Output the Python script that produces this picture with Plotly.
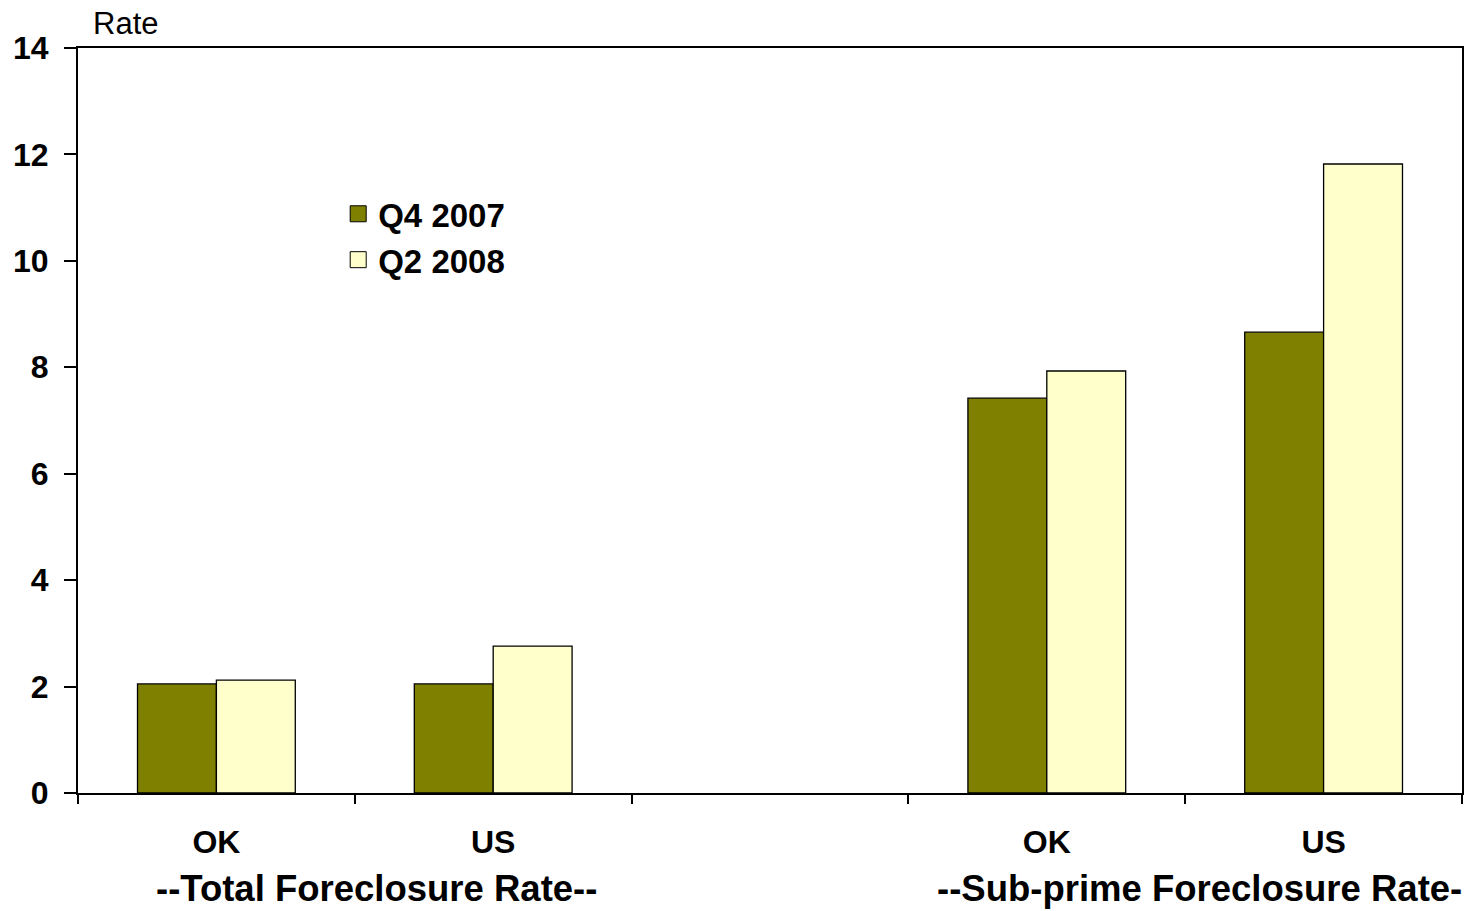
import plotly.graph_objects as go

categories = ["OK", "US", " ", "OK ", "US "]
tick_text = ["OK", "US", "", "OK", "US"]
q4_2007 = [2.05, 2.05, None, 7.42, 8.66]
q2_2008 = [2.12, 2.76, None, 7.93, 11.82]
series_names = ["Q4 2007", "Q2 2008"]
series_colors = ["#808000", "#FFFFCC"]
group_labels = ["--Total Foreclosure Rate--", "--Sub-prime Foreclosure Rate-"]

FONT = "Liberation Sans, Arial, sans-serif"

W, H = 1474, 911
PL, PR, PT, PB = 78, 12, 48, 118
PW = W - PL - PR

fig = go.Figure()
for name, vals, col in zip(series_names, [q4_2007, q2_2008], series_colors):
    fig.add_trace(go.Bar(x=categories, y=vals, name=name, showlegend=False,
                         marker=dict(color=col, line=dict(color="black", width=1.3))))
# legend proxies with larger square swatches
for name, col in zip(series_names, series_colors):
    fig.add_trace(go.Scatter(x=[None], y=[None], mode="markers", name=name,
                             marker=dict(symbol="square", size=20, color=col,
                                         line=dict(color="black", width=1))))

fig.update_layout(
    width=W, height=H,
    margin=dict(l=PL, r=PR, t=PT, b=PB),
    plot_bgcolor="white", paper_bgcolor="white",
    barmode="group", bargap=0.43, bargroupgap=0,
    font=dict(family=FONT, color="black"),
    showlegend=True,
    legend=dict(x=0.188, y=0.815, xanchor="left", yanchor="top",
                font=dict(size=33, family=FONT, weight="bold"),
                bgcolor="rgba(0,0,0,0)", tracegroupgap=0, itemsizing="trace"),
)
fig.update_xaxes(
    type="category", tickson="boundaries", ticks="outside", ticklen=9,
    tickwidth=1.5, tickcolor="black",
    tickvals=categories, ticktext=tick_text,
    tickfont=dict(size=32, family=FONT, weight="bold"),
    ticklabelstandoff=20, automargin=False,
    showline=True, linecolor="black", linewidth=2, mirror=True,
    showgrid=False, range=[-0.5, 4.5],
)
fig.update_yaxes(
    range=[0, 14], tickvals=[0, 2, 4, 6, 8, 10, 12, 14],
    ticks="outside", ticklen=12, tickwidth=1.5, tickcolor="black",
    tickfont=dict(size=32, family=FONT, weight="bold"),
    ticklabelstandoff=9, automargin=False,
    showline=True, linecolor="black", linewidth=2, mirror=True,
    showgrid=False, zeroline=False,
)
fig.add_annotation(text="Rate", xref="paper", yref="paper", x=(91 - 78) / PW,
                   y=1.0, xanchor="left", yanchor="bottom", yshift=5,
                   showarrow=False, font=dict(size=31, family=FONT))
for txt, px in zip(group_labels, [376, 1199]):
    fig.add_annotation(text=txt, xref="paper", yref="paper", x=(px - 78) / PW,
                       y=0, yshift=-95, xanchor="center", yanchor="middle",
                       showarrow=False,
                       font=dict(size=36.5, family=FONT, weight="bold"))

fig.write_html("out.html", config={"displayModeBar": False},
               post_script="document.body.style.margin='0';document.body.style.overflow='hidden';")
